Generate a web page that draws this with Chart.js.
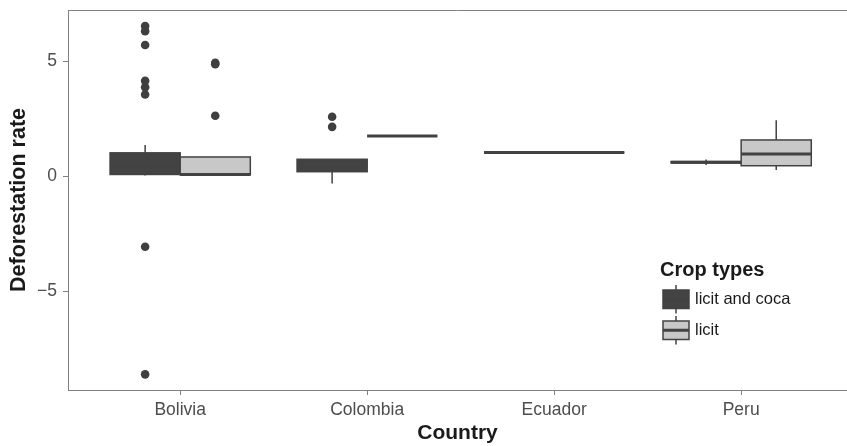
<!DOCTYPE html>
<html><head><meta charset="utf-8">
<script src="https://cdn.jsdelivr.net/npm/chart.js@4.4.0/dist/chart.umd.min.js"></script>
<style>html,body{margin:0;padding:0;background:#fff}#wrap{width:847px;height:446px}</style>
</head><body><div id="wrap"><canvas id="c" width="847" height="446"></canvas></div>
<script>
// ---- data ----
const categories = ['Bolivia', 'Colombia', 'Ecuador', 'Peru'];
const seriesNames = ['licit and coca', 'licit'];
const yTickValues = [-5, 0, 5];

// "licit and coca" boxplot statistics per country
const cocaLow     = [0.03, -0.32, null, 0.48];
const cocaQ1      = [0.07,  0.19, null, 0.57];
const cocaMedian  = [0.45,  0.42, null, 0.60];
const cocaQ3      = [1.01,  0.73, null, 0.63];
const cocaHigh    = [1.35,  0.73, null, 0.72];
const cocaOutliers = [[6.52, 6.30, 5.70, 4.14, 3.86, 3.55, -3.07, -8.62], [2.58, 2.14], [], []];

// "licit" boxplot statistics per country
const licitLow    = [0.05, 1.74, 1.03, 0.26];
const licitQ1     = [0.05, 1.74, 1.03, 0.45];
const licitMedian = [0.07, 1.74, 1.03, 0.96];
const licitQ3     = [0.83, 1.74, 1.03, 1.57];
const licitHigh   = [0.83, 1.74, 1.03, 2.43];
const licitOutliers = [[4.92, 4.86, 2.62], [], [], []];

// ---- styles ----
const FONT = "'Liberation Sans', Arial, Helvetica, sans-serif";
const OUTLINE = '#424242';
const FILLS = ['#434343', '#c8c8c8'];
const AXIS_GRAY = '#808080';
const BOX_WIDTH = 0.75;

const series = [
  {name: seriesNames[0], low: cocaLow, q1: cocaQ1, med: cocaMedian, q3: cocaQ3, high: cocaHigh, out: cocaOutliers, fill: FILLS[0]},
  {name: seriesNames[1], low: licitLow, q1: licitQ1, med: licitMedian, q3: licitQ3, high: licitHigh, out: licitOutliers, fill: FILLS[1]}
];

// dodge position (in category units) of series s inside category i
function dodge(i, s) {
  const present = series.map((ser, k) => ser.q1[i] != null ? k : -1).filter(k => k >= 0);
  const n = present.length;
  const w = BOX_WIDTH / n;
  const k = present.indexOf(s);
  return {center: i + 1 - BOX_WIDTH / 2 + w * (k + 0.5), width: w};
}

function noPad(s) { s.paddingTop = 0; s.paddingBottom = 0; s.paddingLeft = 0; s.paddingRight = 0; }

const boxPlugin = {
  id: 'boxes',
  beforeDatasetsDraw(chart) {
    const {ctx, scales: {x, y}} = chart;
    ctx.save();
    categories.forEach((cat, i) => {
      series.forEach((s, si) => {
        if (s.q1[i] == null) return;
        const d = dodge(i, si);
        const xl = x.getPixelForValue(d.center - d.width / 2);
        const xr = x.getPixelForValue(d.center + d.width / 2);
        const xc = x.getPixelForValue(d.center);
        const yLow = y.getPixelForValue(s.low[i]), yQ1 = y.getPixelForValue(s.q1[i]);
        const yMed = y.getPixelForValue(s.med[i]), yQ3 = y.getPixelForValue(s.q3[i]);
        const yHigh = y.getPixelForValue(s.high[i]);
        ctx.strokeStyle = OUTLINE;
        ctx.lineWidth = 1.5;
        ctx.lineCap = 'butt';
        ctx.beginPath();
        ctx.moveTo(xc, yHigh); ctx.lineTo(xc, yQ3);
        ctx.moveTo(xc, yQ1); ctx.lineTo(xc, yLow);
        ctx.stroke();
        ctx.fillStyle = s.fill;
        ctx.fillRect(xl, yQ3, xr - xl, yQ1 - yQ3);
        ctx.strokeRect(xl, yQ3, xr - xl, yQ1 - yQ3);
        ctx.lineWidth = 3;
        ctx.beginPath();
        ctx.moveTo(xl, yMed); ctx.lineTo(xr, yMed);
        ctx.stroke();
      });
    });
    ctx.restore();
  },
  afterDraw(chart) {
    const {ctx, chartArea: a} = chart;
    ctx.save();
    // top border of panel
    ctx.strokeStyle = AXIS_GRAY;
    ctx.lineWidth = 1;
    ctx.beginPath();
    ctx.moveTo(a.left, a.top + 0.5); ctx.lineTo(a.right, a.top + 0.5);
    ctx.stroke();
    // legend
    ctx.fillStyle = '#1a1a1a';
    ctx.font = "bold 20px " + FONT;
    ctx.textBaseline = 'alphabetic';
    ctx.textAlign = 'left';
    ctx.fillText('Crop types', 660, 276);
    const keys = [{top: 290, bottom: 308.5}, {top: 321, bottom: 339.5}];
    keys.forEach((k, si) => {
      const xl = 663, xr = 689, xc = 676;
      ctx.strokeStyle = OUTLINE;
      ctx.lineWidth = 1.5;
      ctx.beginPath();
      ctx.moveTo(xc, k.top - 5); ctx.lineTo(xc, k.bottom + 5);
      ctx.stroke();
      ctx.fillStyle = series[si].fill;
      ctx.fillRect(xl, k.top, xr - xl, k.bottom - k.top);
      ctx.strokeRect(xl, k.top, xr - xl, k.bottom - k.top);
      ctx.lineWidth = 3;
      const ym = (k.top + k.bottom) / 2;
      ctx.beginPath();
      ctx.moveTo(xl, ym); ctx.lineTo(xr, ym);
      ctx.stroke();
      ctx.fillStyle = '#1a1a1a';
      ctx.font = "16.5px " + FONT;
      ctx.textBaseline = 'middle';
      ctx.fillText(series[si].name, 695, ym);
    });
    ctx.restore();
  }
};

const outlierDatasets = series.map((s, si) => ({
  type: 'scatter',
  label: s.name,
  data: categories.flatMap((c, i) => s.out[i].map(v => ({x: dodge(i, si).center, y: v}))),
  pointRadius: 4.3,
  pointHoverRadius: 4.3,
  pointBackgroundColor: '#3f3f3f',
  pointBorderWidth: 0,
  showLine: false
}));

new Chart(document.getElementById('c'), {
  type: 'scatter',
  data: {datasets: outlierDatasets},
  options: {
    responsive: false,
    animation: false,
    devicePixelRatio: 1,
    layout: {autoPadding: false, padding: {top: 10, right: 0, bottom: 0, left: 0}},
    plugins: {legend: {display: false}, tooltip: {enabled: false}},
    scales: {
      x: {
        type: 'linear', min: 0.4, max: 4.566,
        afterBuildTicks: s => { s.ticks = categories.map((c, i) => ({value: i + 1})); },
        afterFit: s => { s.height = 56; noPad(s); },
        ticks: {
          callback: v => categories[Math.round(v) - 1],
          autoSkip: false, maxRotation: 0, color: '#4d4d4d',
          font: {family: FONT, size: 17.5}, padding: 5
        },
        grid: {display: true, drawOnChartArea: false, drawTicks: true, tickLength: 5, color: AXIS_GRAY, lineWidth: 1},
        border: {display: true, color: AXIS_GRAY, width: 1},
        title: {display: true, text: 'Country', color: '#1a1a1a',
          font: {family: FONT, size: 21, weight: 'bold', lineHeight: 1}, padding: {top: 0, bottom: 2.5}}
      },
      y: {
        type: 'linear', min: -9.3, max: 7.22,
        afterBuildTicks: s => { s.ticks = yTickValues.map(v => ({value: v})); },
        afterFit: s => { s.width = 68; noPad(s); },
        ticks: {
          callback: v => v < 0 ? '\u2212' + Math.abs(v) : String(v),
          color: '#4d4d4d', font: {family: FONT, size: 17.5}, padding: 6
        },
        grid: {display: true, drawOnChartArea: false, drawTicks: true, tickLength: 5, color: AXIS_GRAY, lineWidth: 1},
        border: {display: true, color: AXIS_GRAY, width: 1},
        title: {display: true, text: 'Deforestation rate', color: '#1a1a1a',
          font: {family: FONT, size: 21.5, weight: 'bold', lineHeight: 1}, padding: {top: 8.5, bottom: 0}}
      }
    }
  },
  plugins: [boxPlugin]
});
</script>
</body></html>
